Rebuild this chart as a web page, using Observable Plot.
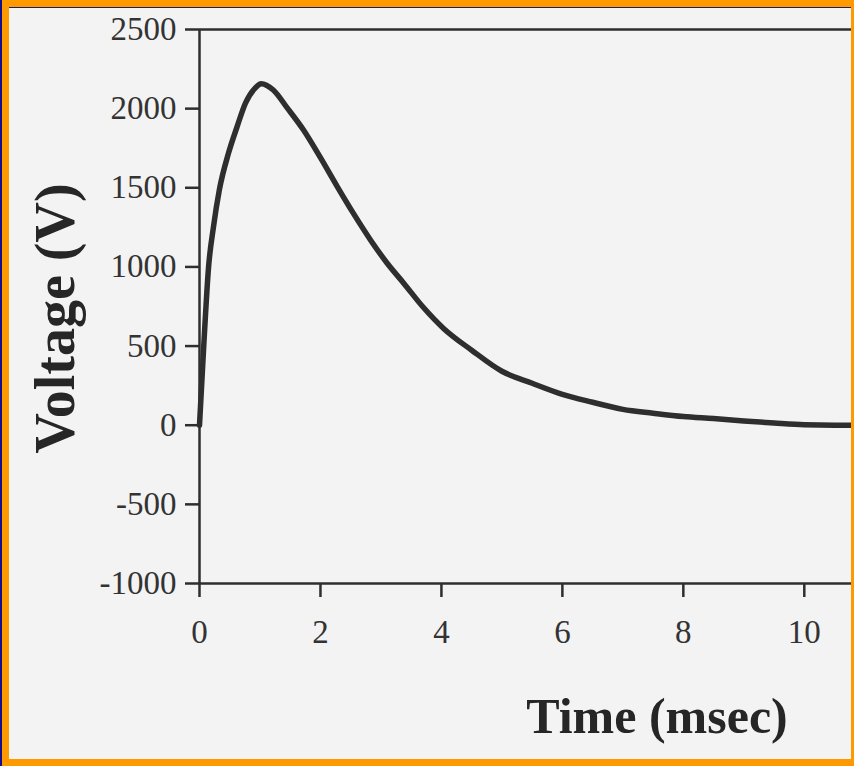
<!DOCTYPE html>
<html>
<head>
<meta charset="utf-8">
<script src="https://cdn.jsdelivr.net/npm/d3@7"></script>
<script src="https://cdn.jsdelivr.net/npm/@observablehq/plot@0.6"></script>
<style>
  html, body { margin: 0; padding: 0; background: #f1f1f1; }
  #wrap { position: relative; width: 854px; height: 766px; overflow: hidden; background: #f3f3f3; }
  #wrap svg { position: absolute; left: 0; top: 0; }
  #frame { position: absolute; left: 0; top: 0; width: 854px; height: 766px; box-sizing: border-box;
           border-top: 7px solid #ff9900; border-left: 9px solid #ff9900; border-right: 3px solid #ff9900; border-bottom: 7px solid #ff9900;
           pointer-events: none; }
  #navyL { position: absolute; left: 0; top: 0; width: 2px; height: 766px; background: #10108a; }
  #navyT { position: absolute; left: 9px; top: 7px; width: 842px; height: 1px; background: #1a1a70; }
</style>
</head>
<body>
<div id="wrap"></div>
<script>
// Data
const time =    [0, 0.07, 0.15, 0.23, 0.33, 0.48, 0.62, 0.76, 0.92, 1.02, 1.22, 1.45, 1.72, 2.0, 2.28, 2.55, 2.83, 3.1, 3.38, 3.7, 4.04, 4.5, 5.0, 5.5, 6.0, 6.5, 7.0, 7.5, 8.0, 8.5, 9.0, 9.5, 10.0, 10.5, 10.83];
const voltage = [0, 500, 1000, 1250, 1490, 1719, 1884, 2035, 2130, 2158, 2118, 2005, 1865, 1690, 1506, 1335, 1169, 1025, 896, 745, 610, 474, 341, 265, 195, 145, 100, 76, 55, 42, 27, 14, 3, 0, 0];
const xTicks = [0, 2, 4, 6, 8, 10];
const yTicks = [-1000, -500, 0, 500, 1000, 1500, 2000, 2500];
const xTitle = "Time (msec)";
const yTitle = "Voltage (V)";

const data = time.map((t, i) => ({t, v: voltage[i]}));
const ink = "#2e2e2e";

const chart = Plot.plot({
  width: 854,
  height: 766,
  marginLeft: 199,
  marginRight: 0,
  marginTop: 29,
  marginBottom: 183,
  style: {background: "transparent", color: ink, fontFamily: "'Liberation Serif', 'DejaVu Serif', serif", fontSize: "33px"},
  x: {domain: [0, 10.83]},
  y: {domain: [-1000, 2500]},
  marks: [
    Plot.ruleY([-1000, 2500], {stroke: ink, strokeWidth: 2.5}),
    Plot.ruleX([0], {stroke: ink, strokeWidth: 2.5}),
    Plot.axisY({ticks: yTicks, tickSize: 14, tickPadding: 9, tickFormat: d => String(d), strokeWidth: 2.5, label: null, fontSize: 33, fill: "#333"}),
    Plot.axisX({ticks: xTicks, tickSize: 14, tickPadding: 22, tickFormat: d => String(d), strokeWidth: 2.5, label: null, fontSize: 33, fill: "#333"}),
    Plot.line(data, {x: "t", y: "v", stroke: ink, strokeWidth: 5.5, curve: "monotone-x"}),
    Plot.text([xTitle], {frameAnchor: "bottom", dx: 130, dy: 149, lineAnchor: "bottom", fontSize: 50, fontWeight: "bold", fill: "#262626"}),
    Plot.text([yTitle], {frameAnchor: "left", textAnchor: "middle", dx: -143, dy: 12, rotate: -90, lineAnchor: "middle", fontSize: 56, fontWeight: "bold", fill: "#262626"})
  ]
});

const wrap = document.getElementById("wrap");
wrap.appendChild(chart);
const f = document.createElement("div"); f.id = "frame"; wrap.appendChild(f);
const l = document.createElement("div"); l.id = "navyL"; wrap.appendChild(l);
const t = document.createElement("div"); t.id = "navyT"; wrap.appendChild(t);
</script>
</body>
</html>
